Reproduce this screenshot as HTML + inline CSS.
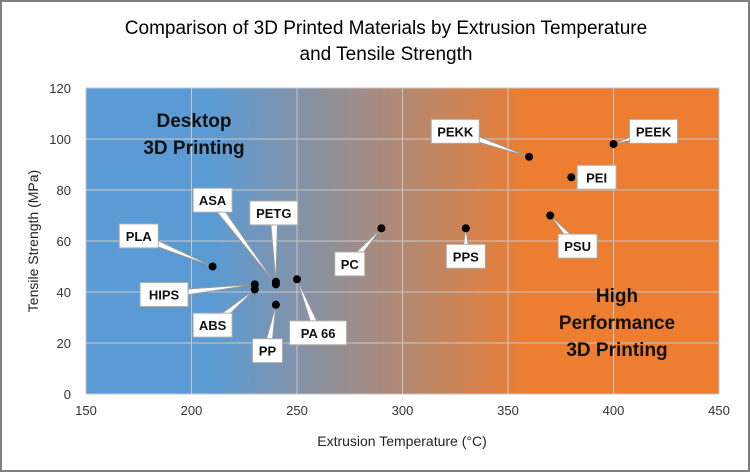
<!DOCTYPE html>
<html><head><meta charset="utf-8"><style>
html,body{margin:0;padding:0;background:#fff}
svg{display:block;font-family:"Liberation Sans",sans-serif}
</style></head><body>
<svg id="chart" width="750" height="472" viewBox="0 0 750 472">
<defs>
<linearGradient id="bg" x1="0" x2="1" y1="0" y2="0">
<stop offset="0.2" stop-color="#5B9BD5"/>
<stop offset="0.7" stop-color="#ED7D31"/>
</linearGradient>
</defs>
<rect x="1" y="1" width="748" height="470" fill="#fff" stroke="#7f7f7f" stroke-width="2"/>
<text x="386" y="34" text-anchor="middle" font-size="19" fill="#000">Comparison of 3D Printed Materials by Extrusion Temperature</text>
<text x="386" y="60" text-anchor="middle" font-size="19" fill="#000">and Tensile Strength</text>
<rect x="86" y="88" width="633" height="306" fill="url(#bg)"/>
<g id="grid"></g>
<g id="axes"></g>
<text x="194" y="127" text-anchor="middle" font-size="19" font-weight="bold" fill="#111"><tspan x="194">Desktop</tspan><tspan x="194" dy="27">3D Printing</tspan></text>
<text x="617" y="302" text-anchor="middle" font-size="19" font-weight="bold" fill="#111"><tspan x="617">High</tspan><tspan x="617" dy="27">Performance</tspan><tspan x="617" dy="27">3D Printing</tspan></text>
<g id="marks"></g>
<text x="402" y="446" text-anchor="middle" font-size="14" fill="#222">Extrusion Temperature (°C)</text>
<text transform="translate(38,241) rotate(-90)" text-anchor="middle" font-size="14" fill="#222">Tensile Strength (MPa)</text>
</svg>
<script>
const materials = ["PLA","HIPS","ABS","ASA","PETG","PP","PA 66","PC","PPS","PEKK","PEI","PSU","PEEK"];
const temps = [210,230,230,240,240,240,250,290,330,360,380,370,400];
const strengths = [50,43,41,43,44,35,45,65,65,93,85,70,98];
const labelTemps = [175,187,210,210,239,236,260,275,330,325,392,383,419];
const labelStrengths = [62,39,27,76,71,17,24,51,54,103,85,58,103];
const xTicks = [150,200,250,300,350,400,450];
const yTicks = [0,20,40,60,80,100,120];
const NS="http://www.w3.org/2000/svg";
const X0=86,X1=719,Y0=394,Y1=88;
const sx=v=>X0+(v-150)/(450-150)*(X1-X0);
const sy=v=>Y0-(v-0)/(120-0)*(Y0-Y1);
function mk(t,a,p){const e=document.createElementNS(NS,t);for(const k in a)e.setAttribute(k,a[k]);p.appendChild(e);return e;}
const grid=document.getElementById('grid'),axes=document.getElementById('axes'),marks=document.getElementById('marks');
xTicks.forEach(v=>{
 const l=mk('line',{x1:sx(v),x2:sx(v),y1:Y1,y2:Y0,stroke:'#c8c8c8','stroke-width':1},grid);
 
 
 const t=mk('text',{x:sx(v),y:415,'text-anchor':'middle','font-size':13,fill:'#333'},axes);
 t.textContent=v;
 
 
});
yTicks.forEach(v=>{
 const l=mk('line',{x1:X0,x2:X1,y1:sy(v),y2:sy(v),stroke:'#c8c8c8','stroke-width':1},grid);
 
 
 const t=mk('text',{x:71,y:sy(v)+5,'text-anchor':'end','font-size':13,fill:'#333'},axes);
 t.textContent=v;
 
 
});
materials.forEach((m,i)=>{
 const px=sx(temps[i]),py=sy(strengths[i]);
 const lx=sx(labelTemps[i]),ly=sy(labelStrengths[i]);
 const dx=lx-px,dy=ly-py,len=Math.hypot(dx,dy)||1,nx=-dy/len*4,ny=dx/len*4;
 const w=mk('polygon',{points:`${px},${py} ${lx+nx},${ly+ny} ${lx-nx},${ly-ny}`,fill:'#fff',stroke:'#999','stroke-width':1},marks);
 
 
});
materials.forEach((m,i)=>{
 const px=sx(temps[i]),py=sy(strengths[i]);
 const c=mk('circle',{cx:px,cy:py,r:4,fill:'#000'},marks);
 
 
});
materials.forEach((m,i)=>{
 const lx=sx(labelTemps[i]),ly=sy(labelStrengths[i]);
 const w=m.length*9+12;
 const r=mk('rect',{x:lx-w/2,y:ly-12,width:w,height:24,fill:'#fff',stroke:'#aaa','stroke-width':1},marks);
 
 
 const t=mk('text',{x:lx,y:ly+5,'text-anchor':'middle','font-size':13,'font-weight':'bold',fill:'#111'},marks);
 t.textContent=m;
 
 
});
</script>
</body></html>
